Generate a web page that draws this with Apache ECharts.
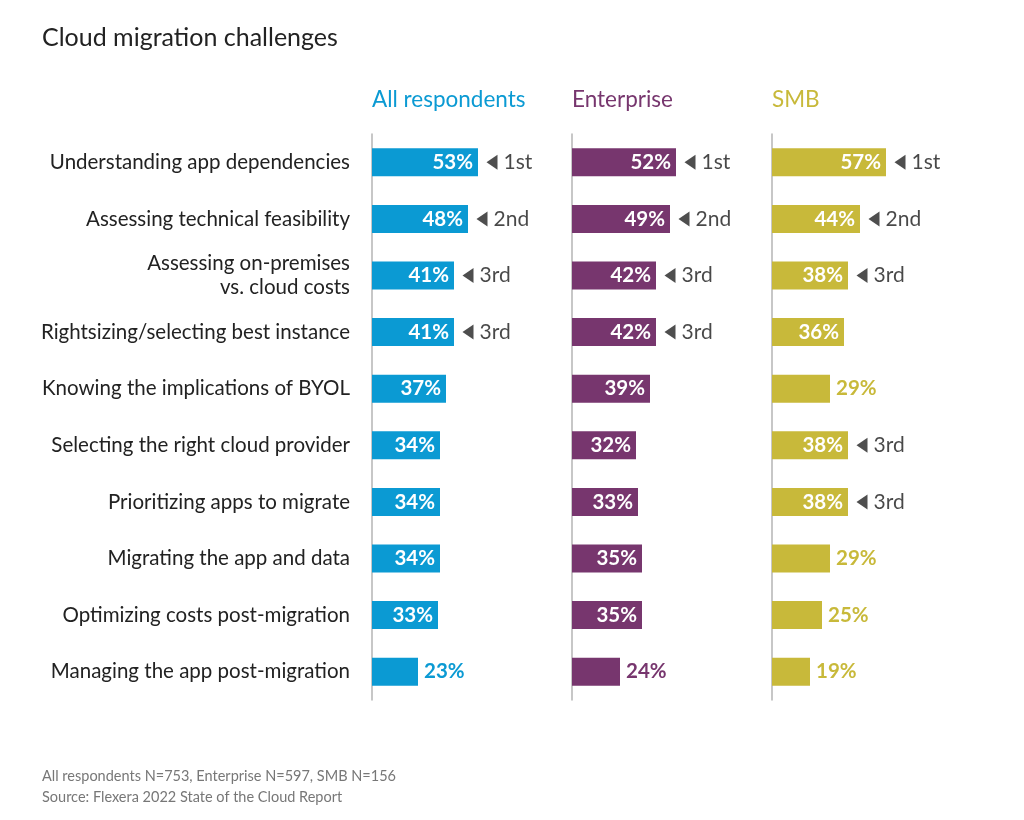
<!DOCTYPE html>
<html>
<head>
<meta charset="utf-8">
<script src="https://cdn.jsdelivr.net/npm/echarts@6/dist/echarts.min.js"></script>
<style>
  html, body { margin: 0; padding: 0; background: #fff; }
  #chart { width: 1024px; height: 820px; }
</style>
</head>
<body>
<div id="chart"></div>
<script>
const categories = [
  "Understanding app dependencies",
  "Assessing technical feasibility",
  "Assessing on-premises\nvs. cloud costs",
  "Rightsizing/selecting best instance",
  "Knowing the implications of BYOL",
  "Selecting the right cloud provider",
  "Prioritizing apps to migrate",
  "Migrating the app and data",
  "Optimizing costs post-migration",
  "Managing the app post-migration"
];
const groups = ["All respondents", "Enterprise", "SMB"];
const allValues = [53, 48, 41, 41, 37, 34, 34, 34, 33, 23];
const entValues = [52, 49, 42, 42, 39, 32, 33, 35, 35, 24];
const smbValues = [57, 44, 38, 36, 29, 38, 38, 29, 25, 19];
const allRanks = ["1st", "2nd", "3rd", "3rd", "", "", "", "", "", ""];
const entRanks = ["1st", "2nd", "3rd", "3rd", "", "", "", "", "", ""];
const smbRanks = ["1st", "2nd", "3rd", "", "", "3rd", "3rd", "", "", ""];
const footnotes = [
  "All respondents N=753, Enterprise N=597, SMB N=156",
  "Source: Flexera 2022 State of the Cloud Report"
];

const colors = ["#0b9ad3", "#77366e", "#c8b93a"];
const valueSets = [allValues, entValues, smbValues];
const rankSets = [allRanks, entRanks, smbRanks];
const lefts = [372, 572, 772];
const font = "Lato";

const chart = echarts.init(document.getElementById("chart"));

const grids = lefts.map((l) => ({ left: l, top: 134, width: 200, height: 566 }));
const xAxes = lefts.map((l, i) => ({
  gridIndex: i, type: "value", min: 0, max: 100, show: false
}));
const yAxes = lefts.map((l, i) => ({
  gridIndex: i,
  type: "category",
  inverse: true,
  data: categories,
  axisTick: { show: false },
  axisLine: { show: true, lineStyle: { color: "#b5b5b5", width: 1.5 } },
  axisLabel: {
    show: i === 0,
    margin: 22,
    align: "right",
    fontFamily: font,
    fontSize: 20.5,
    lineHeight: 24,
    color: "#222"
  }
}));

const series = [];
valueSets.forEach((vals, i) => {
  series.push({
    type: "bar",
    xAxisIndex: i,
    yAxisIndex: i,
    barWidth: 28,
    itemStyle: { color: colors[i] },
    data: vals.map((v) => ({
      value: v,
      label: {
        show: true,
        position: v >= 30 ? "insideRight" : "right",
        distance: v >= 30 ? 5 : 6,
        color: v >= 30 ? "#fff" : colors[i],
        fontFamily: font,
        fontWeight: "bold",
        fontSize: 20.5,
        formatter: "{c}%"
      }
    }))
  });
  const rankData = [];
  rankSets[i].forEach((r, k) => {
    if (r) rankData.push({ value: [vals[k], k], rank: r });
  });
  series.push({
    type: "scatter",
    xAxisIndex: i,
    yAxisIndex: i,
    symbol: "path://M10,0 L0,7 L10,14 Z",
    symbolSize: [11, 15],
    symbolOffset: [14, 0],
    itemStyle: { color: "#222" },
    silent: true,
    label: {
      show: true,
      position: "right",
      distance: 6,
      color: "#1a1a1a",
      fontFamily: font,
      fontSize: 21,
      formatter: (p) => p.data.rank
    },
    data: rankData
  });
});

const graphic = [
  {
    type: "text", left: 42, top: 25,
    style: { text: "Cloud migration challenges", font: "25px " + font, fill: "#222" }
  },
  ...groups.map((g, i) => ({
    type: "text", left: lefts[i], top: 88,
    style: { text: g, font: "22.5px " + font, fill: colors[i] }
  })),
  ...footnotes.map((t, k) => ({
    type: "text", left: 42, top: 769 + k * 21,
    style: { text: t, font: "14.5px " + font, fill: "#777" }
  }))
];

chart.setOption({
  animation: false,
  grid: grids,
  xAxis: xAxes,
  yAxis: yAxes,
  series: series,
  graphic: graphic
});
</script>
</body>
</html>
